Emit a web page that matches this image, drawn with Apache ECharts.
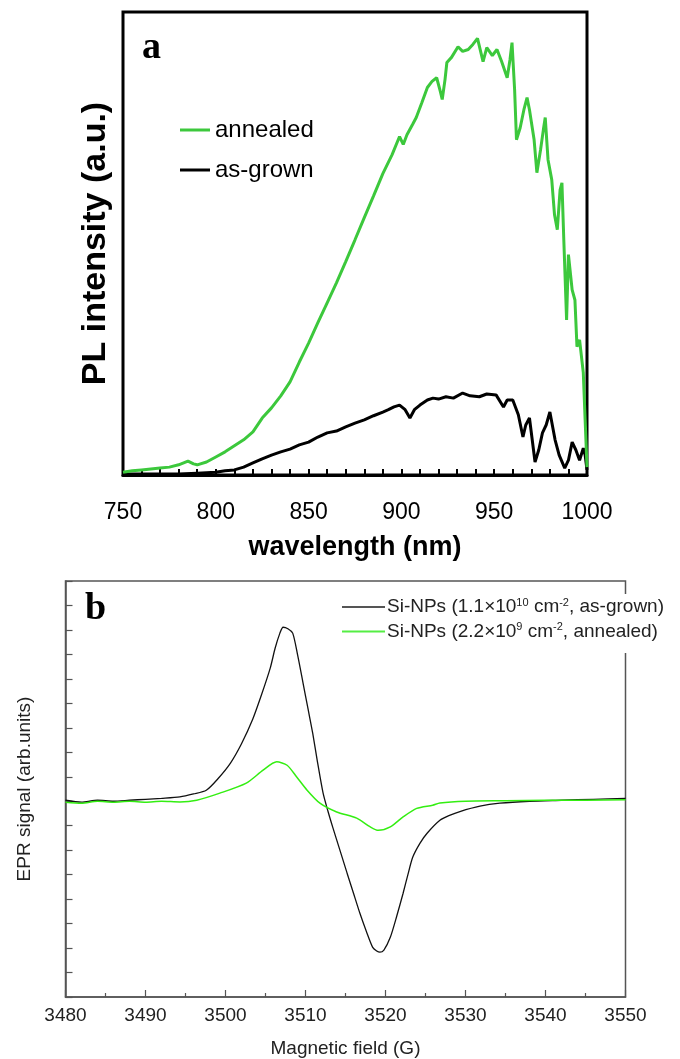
<!DOCTYPE html>
<html><head><meta charset="utf-8">
<script src="https://cdn.jsdelivr.net/npm/echarts@6/dist/echarts.min.js"></script>
<style>html,body{margin:0;padding:0;background:#fff}#c{width:680px;height:1059px}</style>
</head><body><div id="c"></div>
<script>
// ---- Panel a: PL spectra ----
const plTicks = [750, 800, 850, 900, 950, 1000];
const plWlAnnealed = [750,755,760,765,770,775,780,785,788,790,795,800,805,810,815,820,825,830,835,840,845,850,855,860,865,870,875,880,885,890,895,899,901,903,906,908,911,914,916.5,919,921,922,923.5,924.5,927,930.5,933,936,938.5,941,944,946,949,951.5,954,957,958.5,959.6,961,962,964,966,967.7,969,971.5,973,975,976.5,977.5,979,981,982.5,984,985.5,986.5,987.5,989,990,992,993.5,994.6,996,998,999,1000];
const plAnnealed = [0.6,0.9,1.1,1.3,1.5,1.7,2.2,3.0,2.4,2.2,2.8,3.9,5.0,6.3,7.6,9.3,12.3,14.5,17.1,20.1,24.4,28.5,32.9,37.2,41.5,46.1,50.8,55.6,60.3,65.1,69.2,73.1,71.4,73.5,75.7,77.2,80.4,83.7,85.0,85.8,82.8,81.1,85.4,89.1,90.2,92.5,91.5,91.9,93.0,94.3,89.3,92.3,90.6,91.9,89.3,85.8,89.7,93.4,83.2,72.4,75.0,78.9,81.5,78.9,72.4,65.3,70.3,74.6,77.2,68.1,63.8,56.2,53.0,61.6,63.1,50.8,33.5,47.6,40.0,37.8,27.7,29.2,22.1,11.9,1.7];
const plWlAsGrown = [750,760,770,780,790,800,805,810,815,820,825,830,835,840,845,850,855,860,865,870,875,880,885,890,893,896,899,902,904.6,907,910,914,917,920,924,928,933,937,942,946,951,955,957,960,963,965.5,967,969,972,974,976,978,980,982.8,985,988,990,992,994,996,998,999,1000];
const plAsGrown = [0.2,0.2,0.2,0.2,0.4,0.6,0.9,1.1,1.7,2.6,3.5,4.3,5.0,5.6,6.5,7.1,8.2,9.1,9.5,10.4,11.2,11.9,12.8,13.6,14.1,14.7,15.1,14.1,12.3,14.1,15.1,16.2,16.6,16.4,16.9,16.6,17.7,17.1,16.9,17.5,17.3,14.7,16.2,16.2,13.0,8.2,10.8,12.3,2.8,5.4,9.1,10.8,13.6,7.6,4.3,1.5,3.2,7.1,5.4,3.2,5.8,4.3,1.1];
const plNames = ['annealed', 'as-grown'];

// ---- Panel b: EPR spectra ----
const eprTicks = [3480, 3490, 3500, 3510, 3520, 3530, 3540, 3550];
const eprFieldAsGrown = [3480,3482,3484,3486,3488,3490,3492,3494.3,3496,3497.6,3499,3500.6,3502,3503.4,3504.5,3505.6,3506.2,3506.8,3507.2,3507.8,3508.4,3509,3509.7,3510.3,3510.9,3511.5,3512.2,3512.8,3513.4,3514.3,3515.2,3516,3516.8,3517.6,3518.4,3518.9,3519.3,3519.8,3520.6,3521.4,3522.2,3522.8,3523.4,3524.3,3525.2,3526.8,3528,3529.3,3531.8,3534.3,3538,3542,3546,3550];
const eprAsGrown = [0.04,-0.04,0.04,0,0.04,0.08,0.12,0.18,0.30,0.45,0.90,1.55,2.35,3.35,4.35,5.45,6.25,6.87,7.11,7.05,6.87,6.0,4.82,3.80,2.78,1.6,0.33,-0.4,-1.06,-2.0,-2.94,-3.76,-4.58,-5.31,-5.97,-6.12,-6.17,-6.08,-5.56,-4.70,-3.76,-3.0,-2.29,-1.72,-1.31,-0.78,-0.58,-0.42,-0.20,-0.08,0,0.04,0.08,0.12];
const eprFieldAnnealed = [3480,3482,3484,3486,3488,3490,3492,3494.3,3496.4,3499.3,3502.6,3504.7,3506.4,3507.7,3508.9,3510.2,3511.8,3513.9,3516.4,3518.1,3519.1,3520.6,3522.2,3523.9,3525.9,3526.8,3530,3535,3540,3545,3550];
const eprAnnealed = [-0.04,-0.08,0,-0.04,0,-0.04,0,-0.03,0.04,0.33,0.74,1.27,1.61,1.47,0.99,0.45,-0.08,-0.44,-0.69,-1.05,-1.19,-1.05,-0.64,-0.29,-0.16,-0.07,0,0.02,0.04,0.04,0.06];
const eprNames = ['EPR as-grown', 'EPR annealed'];

const zip = (xs, ys) => xs.map((x, i) => [x, ys[i]]);
const FONT = 'Liberation Sans';
const chart = echarts.init(document.getElementById('c'), null, {renderer: 'canvas'});
const ecol = '#555';
chart.setOption({
  animation: false,
  backgroundColor: '#fff',
  textStyle: {fontFamily: FONT},
  title: [
    {text: 'a', left: 142, top: 29, padding: 0, textStyle: {fontFamily: 'Liberation Serif', fontWeight: 'bold', fontSize: 38, color: '#000'}},
    {text: 'b', left: 85, top: 590, padding: 0, textStyle: {fontFamily: 'Liberation Serif', fontWeight: 'bold', fontSize: 38, color: '#000'}}
  ],
  legend: [
    {data: plNames, orient: 'vertical', left: 180, top: 118, itemWidth: 30, itemHeight: 3, itemGap: 16, icon: 'rect', padding: 0,
     textStyle: {fontSize: 24, color: '#000', fontFamily: FONT}},
    {data: eprNames, orient: 'vertical', left: 342, top: 594, itemWidth: 43, itemHeight: 2, itemGap: 5, icon: 'rect',
     padding: [3, 40, 12, 0], backgroundColor: '#fff',
     formatter: n => n === 'EPR as-grown'
        ? '{n|Si-NPs (1.1×10}{s|10}{n| cm}{s|-2}{n|, as-grown)}'
        : '{n|Si-NPs (2.2×10}{s|9}{n| cm}{s|-2}{n|, annealed)}',
     textStyle: {fontSize: 19, color: '#222', fontFamily: FONT, padding: [0, 0, 0, -3],
       rich: {n: {fontSize: 19, color: '#222', fontFamily: FONT, lineHeight: 20},
              s: {fontSize: 11, color: '#222', fontFamily: FONT, verticalAlign: 'top', lineHeight: 10}}}}
  ],
  grid: [
    {left: 123, top: 12, width: 464, height: 463, show: true, borderColor: '#000', borderWidth: 3, backgroundColor: 'transparent'},
    {left: 65.5, top: 581, width: 560, height: 416, show: true, borderColor: ecol, borderWidth: 1.5, backgroundColor: 'transparent'}
  ],
  xAxis: [
    {type: 'value', gridIndex: 0, min: plTicks[0], max: plTicks[plTicks.length - 1], interval: 50,
     axisLine: {show: true, onZero: false, lineStyle: {color: '#000', width: 3}},
     axisTick: {show: true, inside: true, length: 6, lineStyle: {color: '#000', width: 2}},
     minorTick: {show: true, splitNumber: 5, length: 6, lineStyle: {color: '#000', width: 2}},
     splitLine: {show: false},
     axisLabel: {fontSize: 23, color: '#000', margin: 26, fontFamily: FONT, formatter: v => String(v)},
     name: 'wavelength (nm)', nameLocation: 'middle', nameGap: 59,
     nameTextStyle: {fontSize: 27, fontWeight: 'bold', color: '#000', fontFamily: FONT}},
    {type: 'value', gridIndex: 1, min: eprTicks[0], max: eprTicks[eprTicks.length - 1], interval: 10,
     axisLine: {show: true, onZero: false, lineStyle: {color: ecol, width: 1.5}},
     axisTick: {show: true, inside: true, length: 7, lineStyle: {color: ecol, width: 1.2}},
     minorTick: {show: true, splitNumber: 2, length: 4, lineStyle: {color: ecol, width: 1.2}},
     splitLine: {show: false},
     axisLabel: {fontSize: 19, color: '#222', margin: 9, fontFamily: FONT, formatter: v => String(v)},
     name: 'Magnetic field (G)', nameLocation: 'middle', nameGap: 42,
     nameTextStyle: {fontSize: 19, color: '#222', fontFamily: FONT}}
  ],
  yAxis: [
    {type: 'value', gridIndex: 0, min: 0, max: 100,
     axisLine: {show: false}, axisTick: {show: false}, axisLabel: {show: false}, splitLine: {show: false},
     name: 'PL intensity (a.u.)', nameLocation: 'middle', nameGap: 10, nameRotate: 90,
     nameTextStyle: {fontSize: 34, fontWeight: 'bold', color: '#000', fontFamily: FONT}},
    {type: 'value', gridIndex: 1, min: -8, max: 9, interval: 1,
     axisLine: {show: true, onZero: false, lineStyle: {color: ecol, width: 1.5}},
     axisTick: {show: true, inside: true, length: 7, lineStyle: {color: ecol, width: 1.2}},
     axisLabel: {show: false}, splitLine: {show: false},
     name: 'EPR signal (arb.units)', nameLocation: 'middle', nameGap: 31, nameRotate: 90,
     nameTextStyle: {fontSize: 19, color: '#222', fontFamily: FONT}}
  ],
  series: [
    {name: 'as-grown', type: 'line', xAxisIndex: 0, yAxisIndex: 0, data: zip(plWlAsGrown, plAsGrown),
     showSymbol: false, color: '#000', lineStyle: {width: 3, color: '#000'}},
    {name: 'annealed', type: 'line', xAxisIndex: 0, yAxisIndex: 0, data: zip(plWlAnnealed, plAnnealed),
     showSymbol: false, color: '#3cc83c', lineStyle: {width: 3, color: '#3cc83c'}},
    {name: 'EPR as-grown', type: 'line', xAxisIndex: 1, yAxisIndex: 1, data: zip(eprFieldAsGrown, eprAsGrown),
     showSymbol: false, smooth: 0.25, color: '#555', lineStyle: {width: 1.3, color: '#111'}},
    {name: 'EPR annealed', type: 'line', xAxisIndex: 1, yAxisIndex: 1, data: zip(eprFieldAnnealed, eprAnnealed),
     showSymbol: false, smooth: 0.25, color: '#55ee44', lineStyle: {width: 1.5, color: '#33ee11'}}
  ]
});
</script></body></html>
